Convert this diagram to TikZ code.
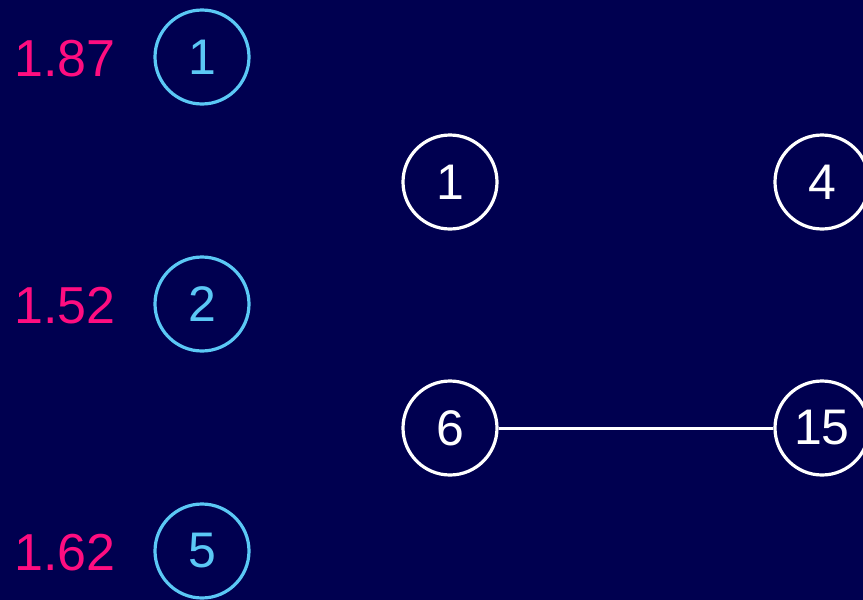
\documentclass[tikz,border=0pt]{standalone}
\usepackage{fontspec}
\setmainfont{Liberation Sans}
\definecolor{bg}{HTML}{000050}
\definecolor{cyanc}{HTML}{5BC8F5}
\definecolor{pinkc}{HTML}{FF0D80}
\tikzset{
  qnode/.style={circle, draw=cyanc, line width=3.2pt, minimum size=94pt, inner sep=0pt, text=cyanc, font=\fontsize{50}{50}\selectfont},
  gnode/.style={circle, draw=white, line width=3.2pt, minimum size=94pt, inner sep=0pt, text=white, font=\fontsize{50}{50}\selectfont},
  score/.style={text=pinkc, font=\fontsize{52}{52}\selectfont, anchor=east, inner sep=0pt},
  edge/.style={draw=white, line width=3pt}
}
\begin{document}
\begin{tikzpicture}[x=1pt,y=-1pt]
\useasboundingbox (0,0) rectangle (863,600);
\clip (0,0) rectangle (863,600);
\fill[bg] (0,0) rectangle (863,600);
\node[qnode] (q1) at (202,57) {1};
\node[qnode] (q2) at (202,304) {2};
\node[qnode] (q5) at (202,551) {5};
\node[score] (s1) at (116,59) {1.87};
\node[score] (s2) at (116,306) {1.52};
\node[score] (s5) at (116,553) {1.62};
\node[gnode] (g1) at (450,182) {1};
\node[gnode] (g4) at (822,182) {4};
\node[gnode] (g6) at (450,428) {6};
\node[gnode] (g15) at (822,428) {15};
\draw[edge] (g6) -- (g15);
\end{tikzpicture}
\end{document}
